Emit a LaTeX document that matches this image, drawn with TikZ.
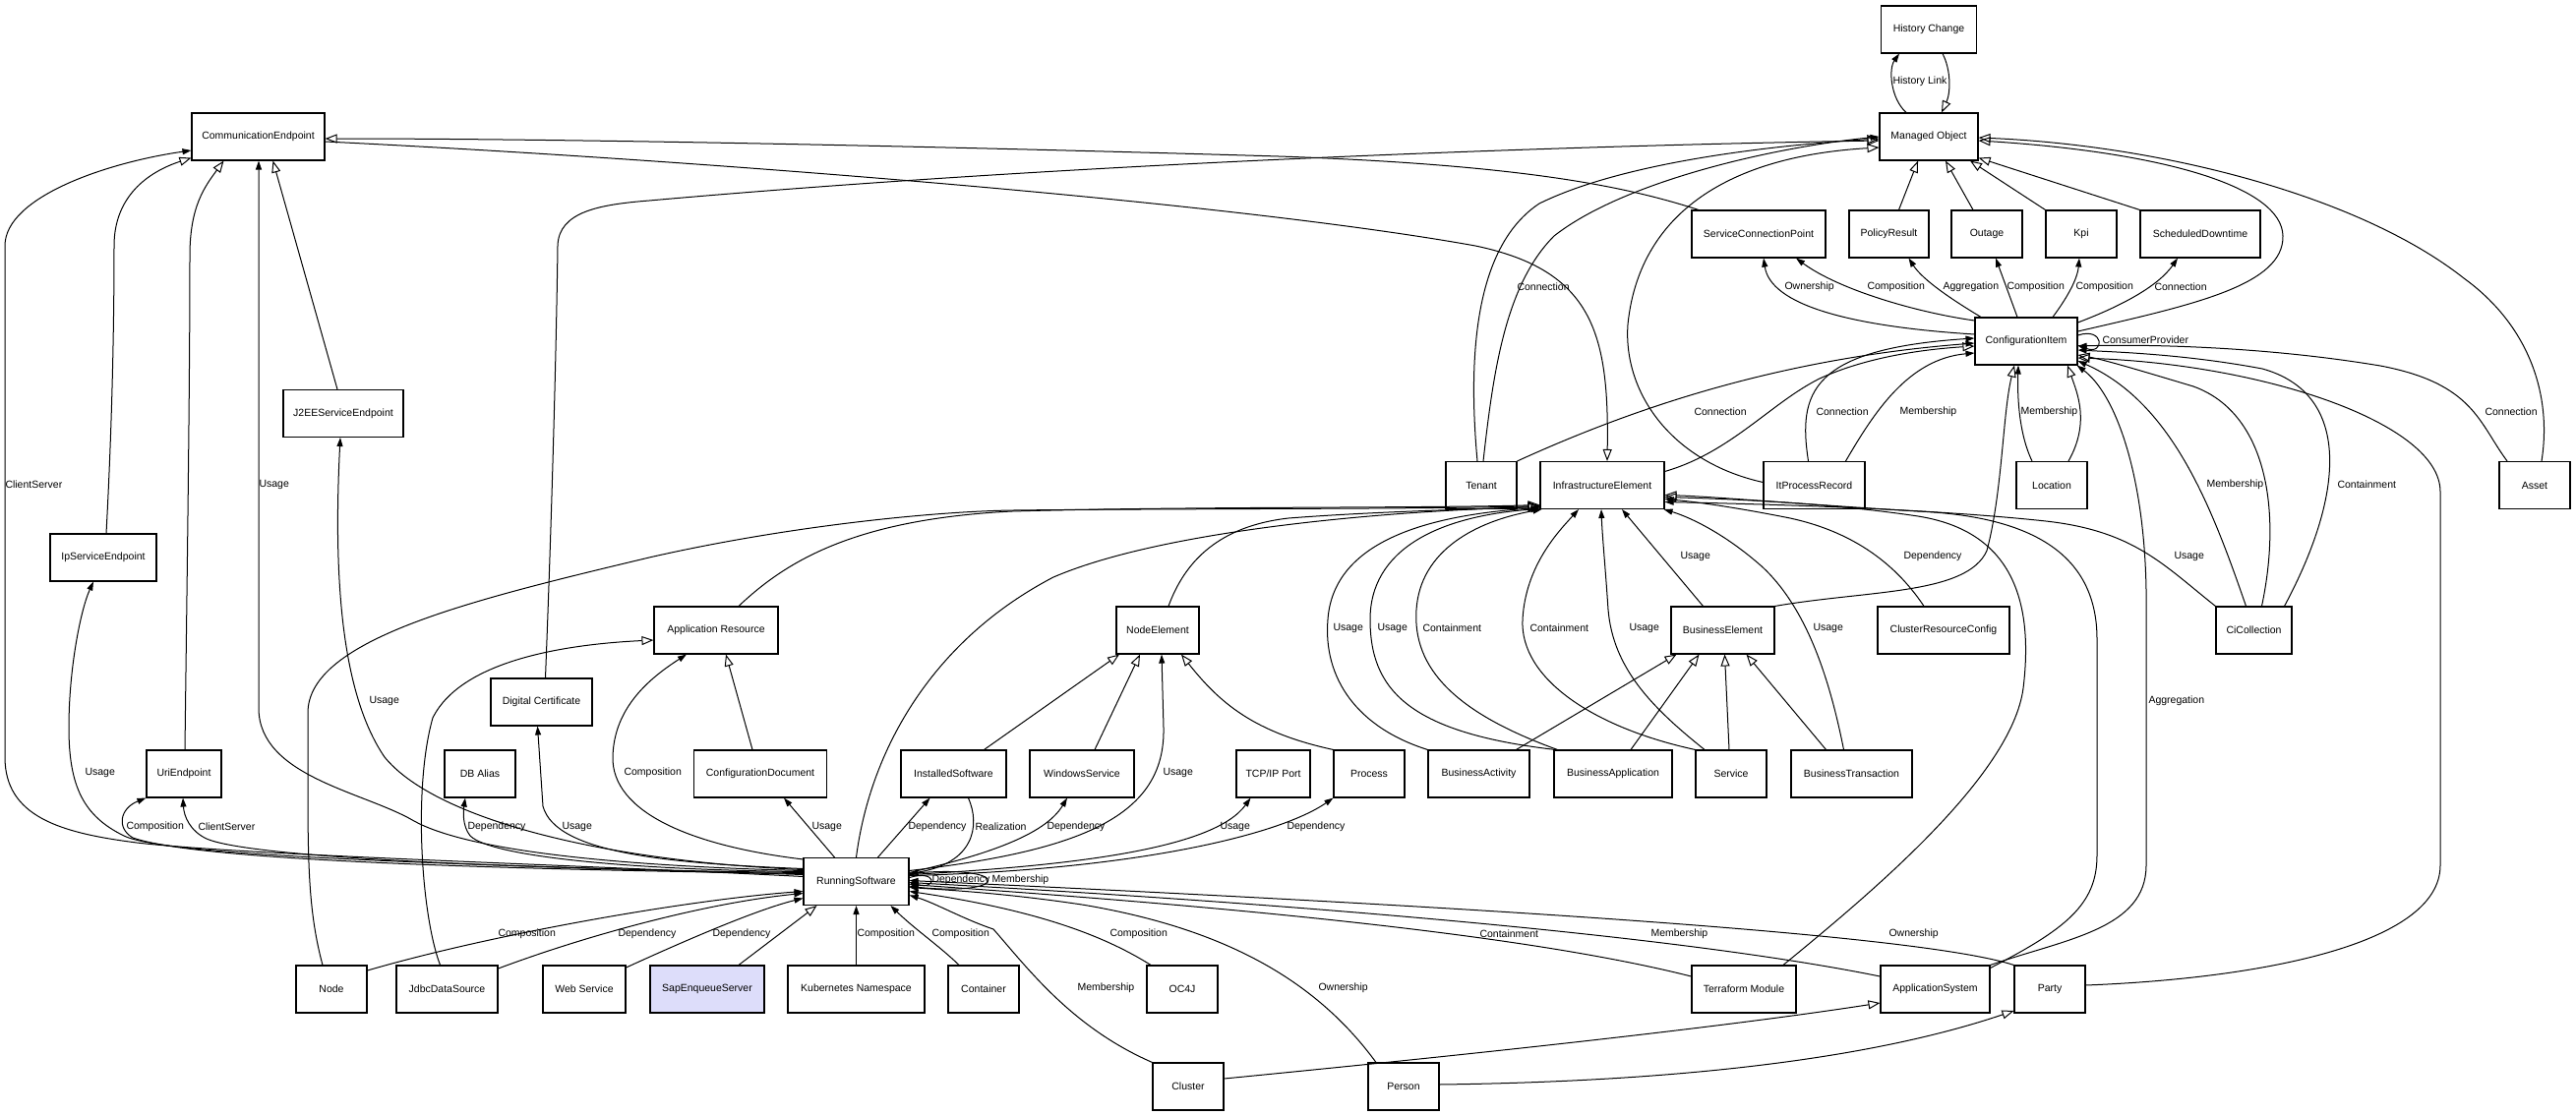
\documentclass[tikz,border=0pt]{standalone}
\usepackage{fontspec}
\setmainfont{Liberation Sans}
\usetikzlibrary{arrows.meta}
\definecolor{sesfill}{RGB}{221,221,250}
\tikzset{
  cls/.style={draw, line width=1.1pt, minimum height=48pt, inner sep=0pt, fill=white, font=\fontsize{10.5pt}{12pt}\selectfont},
  e/.style={line width=1pt, -{Triangle[length=9pt,width=6pt]}},
  g/.style={line width=1pt, -{Triangle[open,length=12pt,width=9pt,line width=1pt]}},
  lb/.style={font=\fontsize{10.5pt}{12pt}\selectfont, inner sep=0pt, anchor=west}
}
\begin{document}
\begin{tikzpicture}[x=1pt,y=-1pt]
\useasboundingbox (0,0) rectangle (2619,1135);
% nodes
\node[cls,minimum width=135pt] (CE) at (262.5,139) {CommunicationEndpoint};
\node[cls,minimum width=97pt] (HC) at (1961,30) {History Change};
\node[cls,minimum width=100pt] (MO) at (1961,139) {Managed Object};
\node[cls,minimum width=136pt] (SCP) at (1788,238) {ServiceConnectionPoint};
\node[cls,minimum width=81pt] (PR) at (1920.5,238) {PolicyResult};
\node[cls,minimum width=72pt] (OUT) at (2020,238) {Outage};
\node[cls,minimum width=72pt] (KPI) at (2116,238) {Kpi};
\node[cls,minimum width=122pt] (SD) at (2237,238) {ScheduledDowntime};
\node[cls,minimum width=104pt] (CI) at (2060,347) {ConfigurationItem};
\node[cls,minimum width=122pt] (J2EE) at (349,420.5) {J2EEServiceEndpoint};
\node[cls,minimum width=108pt] (IPS) at (105,567) {IpServiceEndpoint};
\node[cls,minimum width=103pt] (DC) at (550.5,714) {Digital Certificate};
\node[cls,minimum width=126pt] (AR) at (728,641) {Application Resource};
\node[cls,minimum width=84pt] (NE) at (1177,641) {NodeElement};
\node[cls,minimum width=72pt] (TEN) at (1506,493.5) {Tenant};
\node[cls,minimum width=126pt] (IE) at (1629,493.5) {InfrastructureElement};
\node[cls,minimum width=103pt] (IPR) at (1844.5,493.5) {ItProcessRecord};
\node[cls,minimum width=105pt] (BE) at (1751.5,641) {BusinessElement};
\node[cls,minimum width=134pt] (CRC) at (1976,641) {ClusterResourceConfig};
\node[cls,minimum width=72pt] (LOC) at (2086,493.5) {Location};
\node[cls,minimum width=77pt] (CIC) at (2291.5,641) {CiCollection};
\node[cls,minimum width=72pt] (ASSET) at (2577,493.5) {Asset};
\node[cls,minimum width=76pt] (UE) at (187,787) {UriEndpoint};
\node[cls,minimum width=72pt] (DBA) at (488,787) {DB Alias};
\node[cls,minimum width=135pt] (CD) at (773,787) {ConfigurationDocument};
\node[cls,minimum width=107pt] (IS) at (969.5,787) {InstalledSoftware};
\node[cls,minimum width=106pt] (WS) at (1100,787) {WindowsService};
\node[cls,minimum width=75pt] (TCP) at (1294.5,787) {TCP/IP Port};
\node[cls,minimum width=72pt] (PROC) at (1392,787) {Process};
\node[cls,minimum width=103pt] (BA) at (1503.5,787) {BusinessActivity};
\node[cls,minimum width=120pt] (BAPP) at (1640,787) {BusinessApplication};
\node[cls,minimum width=72pt] (SERV) at (1760,787) {Service};
\node[cls,minimum width=123pt] (BT) at (1882.5,787) {BusinessTransaction};
\node[cls,minimum width=107pt] (RS) at (870.5,896.5) {RunningSoftware};
\node[cls,minimum width=72pt] (NODE) at (337,1006) {Node};
\node[cls,minimum width=103pt] (JDS) at (454.5,1006) {JdbcDataSource};
\node[cls,minimum width=84pt] (WEBS) at (594,1006) {Web Service};
\node[cls,minimum width=116pt,fill=sesfill] (SES) at (719,1006) {SapEnqueueServer};
\node[cls,minimum width=139pt] (K8S) at (870.5,1006) {Kubernetes Namespace};
\node[cls,minimum width=72pt] (CONT) at (1000,1006) {Container};
\node[cls,minimum width=72pt] (OC4J) at (1202,1006) {OC4J};
\node[cls,minimum width=106pt] (TM) at (1773,1006) {Terraform Module};
\node[cls,minimum width=111pt] (AS) at (1967.5,1006) {ApplicationSystem};
\node[cls,minimum width=72pt] (PARTY) at (2084,1006) {Party};
\node[cls,minimum width=72pt] (CLUS) at (1208,1105) {Cluster};
\node[cls,minimum width=72pt] (PERS) at (1427,1105) {Person};

% top
\draw[e] ([xshift=-23]MO.north) .. controls (1922,100) and (1920,70) .. ([xshift=-30]HC.south) node[lb] (L1) at (1924,83) {History Link};
\draw[g] ([xshift=14]HC.south) .. controls (1984,72) and (1983,95) .. ([xshift=13]MO.north);
\draw[g] ([xshift=-61]SCP.north) .. controls (1660,192) and (1560,168) .. (1300,159) .. controls (1000,150) and (600,141) .. ([yshift=-2]CE.east);
\draw[g] ([yshift=-5]CE.east) .. controls (700,162) and (1250,205) .. (1500,250) .. controls (1620,275) and (1636,340) .. ([xshift=5]IE.north);
\draw[g] ([xshift=4]DC.north) .. controls (562,500) and (566,330) .. (567,250) .. controls (568,215) and (610,208) .. (660,204) .. controls (1100,165) and (1600,148) .. ([yshift=-4]MO.west);
\draw[g] ([xshift=-4]TEN.north) .. controls (1492,360) and (1500,250) .. (1565,207) .. controls (1650,165) and (1800,148) .. ([yshift=-2]MO.west);
\draw[e] ([xshift=2]TEN.north) .. controls (1518,380) and (1530,290) .. (1580,240) .. controls (1650,185) and (1800,150) .. (MO.west) node[lb] (L2) at (1542,292) {Connection};
\draw[g] ([yshift=3]IPR.west) .. controls (1700,470) and (1650,400) .. (1655,330) .. controls (1665,230) and (1740,160) .. ([yshift=-11]MO.west);
\draw[g] ([xshift=10]PR.north) -- ([xshift=-11]MO.south);
\draw[g] ([xshift=-14]OUT.north) -- ([xshift=17]MO.south);
\draw[g] (KPI.north west) -- ([xshift=42]MO.south);
\draw[g] (SD.north west) -- ([yshift=3]MO.south east);
\draw[g] ([yshift=10]CI.east) .. controls (2230,310) and (2322,290) .. (2321,240) .. controls (2320,190) and (2200,155) .. ([yshift=-4]MO.east);
\draw[g] ([xshift=7]ASSET.north) .. controls (2595,400) and (2570,330) .. (2505,283) .. controls (2400,200) and (2200,148) .. ([yshift=-1]MO.east);

% ConfigurationItem upward
\draw[e] ([yshift=7]CI.west) .. controls (1880,332) and (1800,310) .. ([xshift=5]SCP.south) node[lb] (L3) at (1814,292) {Ownership};
\draw[e] ([yshift=21]CI.west) .. controls (1950,318) and (1870,295) .. ([xshift=38]SCP.south) node[lb] (L4) at (1898,292) {Composition};
\draw[e] ([xshift=-46]CI.north) .. controls (1985,305) and (1955,285) .. ([xshift=20]PR.south) node[lb] (L5) at (1975,292) {Aggregation};
\draw[e] ([xshift=-9]CI.north) -- ([xshift=9]OUT.south) node[lb] (L6) at (2040,292) {Composition};
\draw[e] ([xshift=27]CI.north) .. controls (2100,305) and (2112,285) .. ([xshift=-2]KPI.south) node[lb] (L7) at (2110,292) {Composition};
\draw[e] ([yshift=19]CI.east) .. controls (2160,310) and (2195,290) .. ([xshift=-23]SD.south) node[lb] (L8) at (2190,292) {Connection};
\draw[e] ([yshift=6]CI.east) .. controls (2140,332) and (2140,362) .. ([yshift=-4]CI.east) node[lb] (L9) at (2137,346) {ConsumerProvider};

% into ConfigurationItem
\draw[e] (TEN.north east) .. controls (1650,420) and (1800,365) .. ([yshift=-2]CI.west) node[lb] (L10) at (1722,419) {Connection};
\draw[g] ([yshift=14]IE.east) .. controls (1760,460) and (1800,410) .. (1850,385) .. controls (1900,362) and (1960,355) .. ([yshift=-5]CI.west);
\draw[e] ([xshift=-6]IPR.north) .. controls (1828,400) and (1840,355) .. ([yshift=3]CI.west) node[lb] (L11) at (1846,419) {Connection};
\draw[e] ([xshift=32]IPR.north) .. controls (1905,420) and (1940,365) .. ([yshift=-12]CI.west) node[lb] (L12) at (1931,419) {Membership};
\draw[g] (BE.north east) .. controls (1900,600) and (2000,605) .. (2020,560) .. controls (2036,500) and (2036,420) .. ([xshift=-12]CI.south);
\draw[e] ([xshift=-20]LOC.north) .. controls (2052,440) and (2051,400) .. ([xshift=-8]CI.south) node[lb] (L13) at (2054,419) {Membership};
\draw[g] ([xshift=17]LOC.north) .. controls (2125,430) and (2112,400) .. ([xshift=42]CI.south);
\draw[e] (AS.north east) .. controls (2100,955) and (2182,945) .. (2182,880) -- (2182,600) .. controls (2180,480) and (2150,400) .. ([xshift=-1]CI.south east) node[lb] (L14) at (2184,713) {Aggregation};
\draw[e] ([xshift=-8]CIC.north) .. controls (2250,520) and (2210,410) .. ([yshift=-20]CI.east) node[lb] (L15) at (2243,493) {Membership};
\draw[g] ([xshift=8]CIC.north) .. controls (2320,520) and (2305,420) .. (2230,393) .. controls (2180,378) and (2140,366) .. ([yshift=-14]CI.east);
\draw[e] ([xshift=31]CIC.north) .. controls (2385,500) and (2390,400) .. (2300,375) .. controls (2220,360) and (2150,358) .. ([yshift=-9]CI.east) node[lb] (L16) at (2376,493) {Containment};
\draw[e] ([xshift=-28]ASSET.north) .. controls (2520,430) and (2515,390) .. (2420,372) .. controls (2300,352) and (2180,350) .. ([yshift=-5]CI.east) node[lb] (L17) at (2526,419) {Connection};
\draw[g] ([yshift=4]PARTY.east) .. controls (2300,995) and (2481,960) .. (2481,880) -- (2481,500) .. controls (2481,430) and (2300,370) .. ([yshift=-17]CI.east);

% into InfrastructureElement
\draw[g] (RS.north) .. controls (885,760) and (950,650) .. (1071,587) .. controls (1180,540) and (1400,520) .. ([yshift=-22]IE.west);
\draw[g] ([xshift=23]AR.north) .. controls (800,570) and (870,528) .. (1029,520) .. controls (1200,515) and (1450,517) .. ([yshift=-20]IE.west);
\draw[g] ([xshift=-9]NODE.north) .. controls (314,930) and (313,880) .. (313,800) -- (313,725) .. controls (313,650) and (480,610) .. (660,567) .. controls (800,535) and (950,520) .. (1030,519) .. controls (1200,517) and (1450,518) .. ([yshift=-21]IE.west);
\draw[g] ([xshift=11]NE.north) .. controls (1205,570) and (1240,535) .. (1310,527) .. controls (1400,520) and (1500,518) .. ([yshift=-22]IE.west);
\draw[e] (BA.north west) .. controls (1380,740) and (1345,690) .. (1350,630) .. controls (1355,560) and (1430,525) .. ([yshift=-23]IE.west) node[lb] (L18) at (1355,639) {Usage};
\draw[e] ([xshift=2]BAPP.north west) .. controls (1430,745) and (1393,700) .. (1393,630) .. controls (1393,560) and (1460,525) .. ([yshift=-24]IE.west) node[lb] (L19) at (1400,639) {Usage};
\draw[e] ([xshift=4]BAPP.north west) .. controls (1480,725) and (1436,680) .. (1440,620) .. controls (1444,560) and (1500,530) .. ([xshift=2]IE.south west) node[lb] (L20) at (1446,639) {Containment};
\draw[e] (SERV.north west) .. controls (1620,740) and (1545,690) .. (1548,630) .. controls (1551,575) and (1585,540) .. ([xshift=-24]IE.south) node[lb] (L21) at (1555,639) {Containment};
\draw[e] ([xshift=-27]SERV.north) .. controls (1680,720) and (1640,680) .. (1635,620) .. controls (1632,575) and (1629,545) .. ([xshift=-1]IE.south) node[lb] (L22) at (1656,639) {Usage};
\draw[e] ([xshift=-20]BE.north) -- ([xshift=20]IE.south) node[lb] (L23) at (1708,566) {Usage};
\draw[e] ([xshift=-8]BT.north) .. controls (1862,700) and (1840,620) .. (1790,575) .. controls (1750,540) and (1715,525) .. ([xshift=-1]IE.south east) node[lb] (L24) at (1843,639) {Usage};
\draw[e] ([xshift=-20]CRC.north) .. controls (1925,570) and (1880,540) .. (1820,527) .. controls (1760,515) and (1720,510) .. ([yshift=-14]IE.east) node[lb] (L25) at (1935,566) {Dependency};
\draw[e] (CIC.north west) .. controls (2200,575) and (2170,540) .. (2080,530) .. controls (1950,516) and (1760,512) .. ([yshift=-17]IE.east) node[lb] (L26) at (2210,566) {Usage};
\draw[g] ([xshift=40]TM.north) .. controls (1900,910) and (2045,790) .. (2057,700) .. controls (2068,610) and (2045,540) .. (1950,525) .. controls (1850,510) and (1740,507) .. ([yshift=-12]IE.east);
\draw[g] ([yshift=-3]AS.north east) .. controls (2100,945) and (2132,920) .. (2132,870) -- (2132,650) .. controls (2132,560) and (2060,525) .. (1950,520) .. controls (1820,512) and (1740,505) .. ([yshift=-10]IE.east);

% bottom generalizations
\draw[g] ([yshift=8]CLUS.east) .. controls (1500,1072) and (1750,1045) .. ([yshift=-14]AS.west);
\draw[g] ([yshift=2]PERS.east) .. controls (1700,1100) and (1900,1078) .. ([yshift=-22]PARTY.west);

% CommunicationEndpoint
\draw[g] ([xshift=-6]J2EE.north) -- ([xshift=15]CE.south);
\draw[g] ([xshift=1]UE.north) .. controls (190,600) and (193,400) .. (193,260) .. controls (193,210) and (208,190) .. ([xshift=-35]CE.south);
\draw[g] ([xshift=3]IPS.north) .. controls (113,450) and (116,350) .. (116,250) .. controls (116,200) and (150,175) .. ([yshift=3]CE.south west);

% RunningSoftware left bundle
\draw[e] ([yshift=5]RS.west) .. controls (600,880) and (250,870) .. (139,857) .. controls (60,847) and (5,830) .. (5,770) -- (5,250) .. controls (5,200) and (110,165) .. ([yshift=-14]CE.west) node[lb] (L27) at (5,493) {ClientServer};
\draw[e] ([yshift=7]RS.west) .. controls (500,880) and (170,872) .. (126,850) .. controls (85,830) and (70,800) .. (70,740) .. controls (70,680) and (82,620) .. ([xshift=-10]IPS.south) node[lb] (L28) at (86,786) {Usage};
\draw[e] ([yshift=8]RS.west) .. controls (500,884) and (200,875) .. (135,852) .. controls (118,842) and (122,822) .. (UE.south west) node[lb] (L29) at (128,841) {Composition};
\draw[e] ([yshift=9]RS.west) .. controls (600,885) and (260,875) .. (210,853) .. controls (193,845) and (187,830) .. ([xshift=-1]UE.south) node[lb] (L30) at (201,841) {ClientServer};
\draw[e] ([yshift=11]RS.west) .. controls (600,880) and (470,862) .. (421,835) .. controls (370,805) and (263,790) .. (263,720) -- ([xshift=0.5]CE.south) node[lb] (L31) at (263,493) {Usage};
\draw[e] ([yshift=12]RS.west) .. controls (600,875) and (440,830) .. (391,770) .. controls (350,710) and (338,600) .. ([xshift=-3]J2EE.south) node[lb] (L32) at (375,713) {Usage};
\draw[e] ([yshift=13]RS.west) .. controls (680,878) and (565,868) .. (552,820) -- ([xshift=-4]DC.south) node[lb] (L33) at (571,841) {Usage};
\draw[e] ([yshift=10]RS.west) .. controls (650,885) and (500,872) .. (478,850) .. controls (470,840) and (471,825) .. ([xshift=-15]DBA.south) node[lb] (L34) at (475,841) {Dependency};
\draw[g] ([xshift=-7]JDS.north) .. controls (428,930) and (420,800) .. (440,730) .. controls (470,670) and (580,655) .. ([yshift=-10]AR.west);
\draw[e] ([yshift=-2]RS.north west) .. controls (700,860) and (622,825) .. (623,770) .. controls (624,720) and (660,690) .. ([xshift=-30]AR.south) node[lb] (L35) at (634,786) {Composition};

% RunningSoftware top / right
\draw[e] ([xshift=-22]RS.north) -- ([xshift=24]CD.south) node[lb] (L36) at (825,841) {Usage};
\draw[e] ([xshift=22]RS.north) -- ([xshift=-24]IS.south) node[lb] (L37) at (923,841) {Dependency};
\draw[e] ([xshift=15]IS.south) .. controls (997,840) and (990,878) .. ([yshift=8]RS.east) node[lb] (L38) at (991,841) {Realization};
\draw[e] ([yshift=9]RS.east) .. controls (1000,870) and (1062,850) .. ([xshift=-15]WS.south) node[lb] (L39) at (1064,841) {Dependency};
\draw[e] ([yshift=11]RS.east) .. controls (1100,865) and (1185,830) .. (1183,740) -- ([xshift=4]NE.south) node[lb] (L40) at (1182,786) {Usage};
\draw[e] ([yshift=7]RS.east) .. controls (1100,880) and (1235,862) .. ([xshift=-23]TCP.south) node[lb] (L41) at (1240,841) {Usage};
\draw[e] ([yshift=6]RS.east) .. controls (1150,885) and (1300,850) .. (PROC.south west) node[lb] (L42) at (1308,841) {Dependency};
\draw[e] ([yshift=4]RS.east) .. controls (953,884) and (953,905) .. ([yshift=-1]RS.east) node[lb] (L43) at (947,895) {Dependency};
\draw[e] ([yshift=8]RS.east) .. controls (1030,878) and (1030,912) .. ([yshift=-5]RS.east) node[lb] (L44) at (1008,895) {Membership};

% RunningSoftware bottom
\draw[g] ([xshift=32]SES.north) -- ([xshift=-40]RS.south);
\draw[e] (K8S.north) -- (RS.south) node[lb] (L45) at (871,950) {Composition};
\draw[e] ([xshift=-25]CONT.north) .. controls (955,962) and (930,945) .. ([xshift=35]RS.south) node[lb] (L46) at (947,950) {Composition};
\draw[e] ([xshift=-32]OC4J.north) .. controls (1120,950) and (1050,925) .. ([yshift=-10]RS.east) node[lb] (L47) at (1128,950) {Composition};
\draw[e] (CLUS.north west) .. controls (1090,1045) and (1045,985) .. (1010,945) .. controls (980,935) and (950,918) .. ([yshift=-14]RS.east) node[lb] (L48) at (1095,1005) {Membership};
\draw[e] ([xshift=-28]PERS.north) .. controls (1340,1000) and (1250,945) .. (1100,920) .. controls (1020,908) and (960,905) .. ([yshift=-6]RS.east) node[lb] (L49) at (1340,1005) {Ownership};
\draw[e] ([yshift=13]TM.west) .. controls (1550,950) and (1250,922) .. ([yshift=-3]RS.east) node[lb] (L50) at (1504,950) {Containment};
\draw[e] ([yshift=13]AS.west) .. controls (1700,950) and (1300,918) .. ([yshift=-1]RS.east) node[lb] (L51) at (1678,950) {Membership};
\draw[e] (PARTY.north west) .. controls (1950,950) and (1500,922) .. ([yshift=1]RS.east) node[lb] (L52) at (1920,950) {Ownership};
\draw[e] ([yshift=19]NODE.east) .. controls (500,950) and (700,915) .. ([yshift=-10]RS.west) node[lb] (L53) at (506,950) {Composition};
\draw[e] ([yshift=21]JDS.east) .. controls (600,950) and (720,918) .. ([yshift=-12]RS.west) node[lb] (L54) at (628,950) {Dependency};
\draw[e] ([yshift=22]WEBS.east) .. controls (700,955) and (770,925) .. ([yshift=-17]RS.west) node[lb] (L55) at (724,950) {Dependency};

% other generalizations
\draw[g] ([xshift=31]IS.north) -- ([xshift=-39]NE.south);
\draw[g] ([xshift=13]WS.north) -- ([xshift=-18]NE.south);
\draw[g] (PROC.north west) .. controls (1275,745) and (1240,715) .. ([xshift=24]NE.south);
\draw[g] ([xshift=-8]CD.north) -- ([xshift=10]AR.south);
\draw[g] ([xshift=38]BA.north) -- ([xshift=-47]BE.south);
\draw[g] ([xshift=18]BAPP.north) -- ([xshift=-24]BE.south);
\draw[g] ([xshift=-2]SERV.north) -- ([xshift=2]BE.south);
\draw[g] ([xshift=-26]BT.north) -- ([xshift=24]BE.south);
\end{tikzpicture}
\end{document}
